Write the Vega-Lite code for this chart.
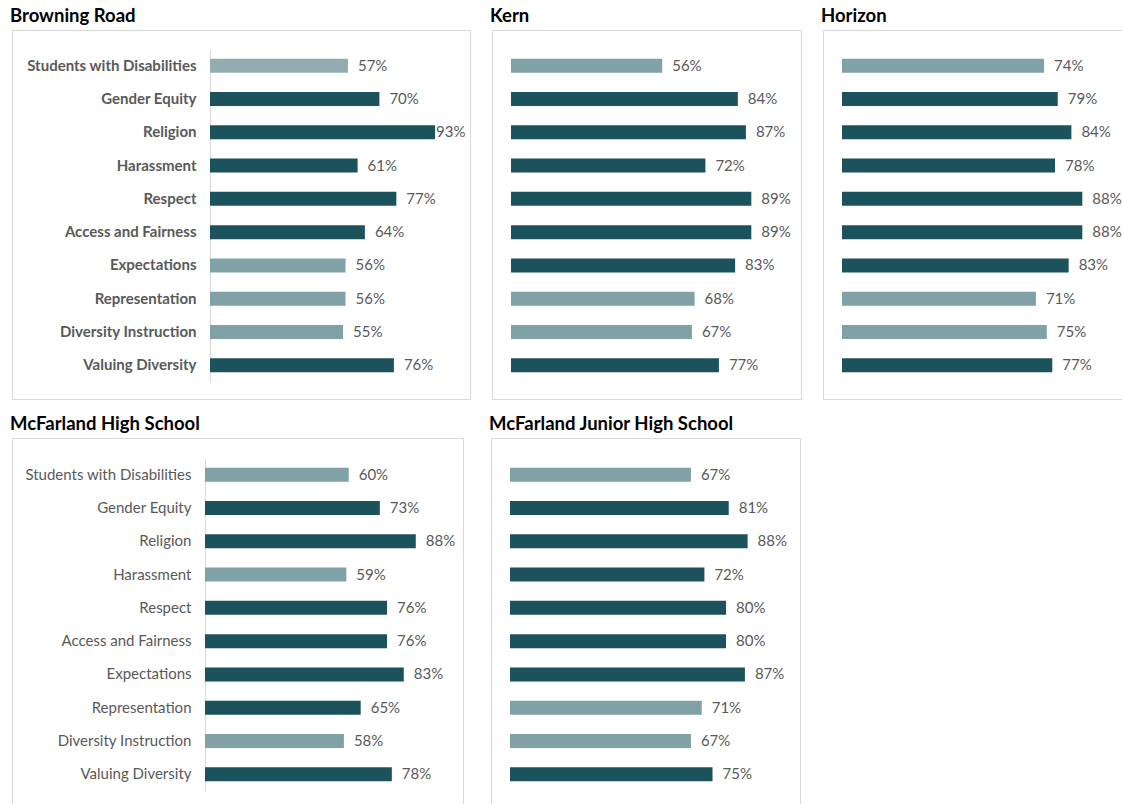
{
  "$schema": "https://vega.github.io/schema/vega-lite/v6.json",
  "padding": {"left": 9, "top": 6, "right": 0, "bottom": 0},
  "background": "white",
  "datasets": {
    "scores": [
      {"school": "Browning Road", "category": "Students with Disabilities", "value": 0.57, "group": "C"},
      {"school": "Browning Road", "category": "Gender Equity", "value": 0.70, "group": "A"},
      {"school": "Browning Road", "category": "Religion", "value": 0.93, "group": "A"},
      {"school": "Browning Road", "category": "Harassment", "value": 0.61, "group": "A"},
      {"school": "Browning Road", "category": "Respect", "value": 0.77, "group": "A"},
      {"school": "Browning Road", "category": "Access and Fairness", "value": 0.64, "group": "A"},
      {"school": "Browning Road", "category": "Expectations", "value": 0.56, "group": "B"},
      {"school": "Browning Road", "category": "Representation", "value": 0.56, "group": "B"},
      {"school": "Browning Road", "category": "Diversity Instruction", "value": 0.55, "group": "B"},
      {"school": "Browning Road", "category": "Valuing Diversity", "value": 0.76, "group": "A"},
      {"school": "Kern", "category": "Students with Disabilities", "value": 0.56, "group": "B"},
      {"school": "Kern", "category": "Gender Equity", "value": 0.84, "group": "A"},
      {"school": "Kern", "category": "Religion", "value": 0.87, "group": "A"},
      {"school": "Kern", "category": "Harassment", "value": 0.72, "group": "A"},
      {"school": "Kern", "category": "Respect", "value": 0.89, "group": "A"},
      {"school": "Kern", "category": "Access and Fairness", "value": 0.89, "group": "A"},
      {"school": "Kern", "category": "Expectations", "value": 0.83, "group": "A"},
      {"school": "Kern", "category": "Representation", "value": 0.68, "group": "B"},
      {"school": "Kern", "category": "Diversity Instruction", "value": 0.67, "group": "B"},
      {"school": "Kern", "category": "Valuing Diversity", "value": 0.77, "group": "A"},
      {"school": "Horizon", "category": "Students with Disabilities", "value": 0.74, "group": "B"},
      {"school": "Horizon", "category": "Gender Equity", "value": 0.79, "group": "A"},
      {"school": "Horizon", "category": "Religion", "value": 0.84, "group": "A"},
      {"school": "Horizon", "category": "Harassment", "value": 0.78, "group": "A"},
      {"school": "Horizon", "category": "Respect", "value": 0.88, "group": "A"},
      {"school": "Horizon", "category": "Access and Fairness", "value": 0.88, "group": "A"},
      {"school": "Horizon", "category": "Expectations", "value": 0.83, "group": "A"},
      {"school": "Horizon", "category": "Representation", "value": 0.71, "group": "B"},
      {"school": "Horizon", "category": "Diversity Instruction", "value": 0.75, "group": "B"},
      {"school": "Horizon", "category": "Valuing Diversity", "value": 0.77, "group": "A"},
      {"school": "McFarland High School", "category": "Students with Disabilities", "value": 0.60, "group": "B"},
      {"school": "McFarland High School", "category": "Gender Equity", "value": 0.73, "group": "A"},
      {"school": "McFarland High School", "category": "Religion", "value": 0.88, "group": "A"},
      {"school": "McFarland High School", "category": "Harassment", "value": 0.59, "group": "B"},
      {"school": "McFarland High School", "category": "Respect", "value": 0.76, "group": "A"},
      {"school": "McFarland High School", "category": "Access and Fairness", "value": 0.76, "group": "A"},
      {"school": "McFarland High School", "category": "Expectations", "value": 0.83, "group": "A"},
      {"school": "McFarland High School", "category": "Representation", "value": 0.65, "group": "A"},
      {"school": "McFarland High School", "category": "Diversity Instruction", "value": 0.58, "group": "B"},
      {"school": "McFarland High School", "category": "Valuing Diversity", "value": 0.78, "group": "A"},
      {"school": "McFarland Junior High School", "category": "Students with Disabilities", "value": 0.67, "group": "B"},
      {"school": "McFarland Junior High School", "category": "Gender Equity", "value": 0.81, "group": "A"},
      {"school": "McFarland Junior High School", "category": "Religion", "value": 0.88, "group": "A"},
      {"school": "McFarland Junior High School", "category": "Harassment", "value": 0.72, "group": "A"},
      {"school": "McFarland Junior High School", "category": "Respect", "value": 0.80, "group": "A"},
      {"school": "McFarland Junior High School", "category": "Access and Fairness", "value": 0.80, "group": "A"},
      {"school": "McFarland Junior High School", "category": "Expectations", "value": 0.87, "group": "A"},
      {"school": "McFarland Junior High School", "category": "Representation", "value": 0.71, "group": "B"},
      {"school": "McFarland Junior High School", "category": "Diversity Instruction", "value": 0.67, "group": "B"},
      {"school": "McFarland Junior High School", "category": "Valuing Diversity", "value": 0.75, "group": "A"}
    ]
  },
  "data": {"name": "scores"},
  "config": {
    "font": "Lato",
    "view": {"stroke": "#d9d9d9", "strokeWidth": 1},
    "title": {"fontSize": 18.5, "fontWeight": "bold", "color": "#000000", "anchor": "start", "offset": 5, "dx": -2, "font": "Lato"},
    "text": {"font": "Lato", "fontSize": 15, "color": "#595959", "align": "left", "baseline": "middle"}
  },
  "vconcat": [
    {
      "spacing": 18,
      "hconcat": [
        {
          "title": "Browning Road",
          "width": 458, "height": 369,
          "transform": [{"filter": "datum.school === 'Browning Road'"}],
          "encoding": {
            "y": {"field": "category", "type": "nominal",
              "sort": ["Students with Disabilities", "Gender Equity", "Religion", "Harassment", "Respect", "Access and Fairness", "Expectations", "Representation", "Diversity Instruction", "Valuing Diversity"],
              "scale": {"range": [19, 352], "paddingInner": 0, "paddingOuter": 0},
              "axis": {"orient": "left", "offset": -198, "title": null, "ticks": false, "grid": false, "domainColor": "#d9d9d9", "labelFont": "Lato", "labelFontSize": 15, "labelFontWeight": "bold", "labelColor": "#595959", "labelPadding": 14, "labelLimit": 400}},
            "x": {"field": "value", "type": "quantitative", "scale": {"domain": [-0.8182, 1.0744], "nice": false}, "axis": null}
          },
          "layer": [
            {"mark": {"type": "bar", "height": {"band": 0.42}},
             "encoding": {"x2": {"datum": 0},
               "color": {"field": "group", "type": "nominal", "scale": {"domain": ["A", "B", "C"], "range": ["#1b525c", "#80a1a5", "#93acb0"]}, "legend": null}}},
            {"transform": [{"filter": "datum.value < 0.9"}],
             "mark": {"type": "text", "dx": 10},
             "encoding": {"text": {"field": "value", "type": "quantitative", "format": ".0%"}}},
            {"transform": [{"filter": "datum.value >= 0.9"}],
             "mark": {"type": "text", "dx": 1},
             "encoding": {"text": {"field": "value", "type": "quantitative", "format": ".0%"}}}
          ]
        },
        {
          "title": "Kern",
          "width": 309, "height": 369,
          "transform": [{"filter": "datum.school === 'Kern'"}],
          "encoding": {
            "y": {"field": "category", "type": "nominal",
              "sort": ["Students with Disabilities", "Gender Equity", "Religion", "Harassment", "Respect", "Access and Fairness", "Expectations", "Representation", "Diversity Instruction", "Valuing Diversity"],
              "scale": {"range": [19, 352], "paddingInner": 0, "paddingOuter": 0}, "axis": null},
            "x": {"field": "value", "type": "quantitative", "scale": {"domain": [-0.0704, 1.074], "nice": false}, "axis": null}
          },
          "layer": [
            {"mark": {"type": "bar", "height": {"band": 0.42}},
             "encoding": {"x2": {"datum": 0},
               "color": {"field": "group", "type": "nominal", "scale": {"domain": ["A", "B", "C"], "range": ["#1b525c", "#80a1a5", "#93acb0"]}, "legend": null}}},
            {"mark": {"type": "text", "dx": 10},
             "encoding": {"text": {"field": "value", "type": "quantitative", "format": ".0%"}}}
          ]
        },
        {
          "title": "Horizon",
          "width": 303, "height": 369,
          "transform": [{"filter": "datum.school === 'Horizon'"}],
          "encoding": {
            "y": {"field": "category", "type": "nominal",
              "sort": ["Students with Disabilities", "Gender Equity", "Religion", "Harassment", "Respect", "Access and Fairness", "Expectations", "Representation", "Diversity Instruction", "Valuing Diversity"],
              "scale": {"range": [19, 352], "paddingInner": 0, "paddingOuter": 0}, "axis": null},
            "x": {"field": "value", "type": "quantitative", "scale": {"domain": [-0.0696, 1.040], "nice": false}, "axis": null}
          },
          "layer": [
            {"mark": {"type": "bar", "height": {"band": 0.42}},
             "encoding": {"x2": {"datum": 0},
               "color": {"field": "group", "type": "nominal", "scale": {"domain": ["A", "B", "C"], "range": ["#1b525c", "#80a1a5", "#93acb0"]}, "legend": null}}},
            {"mark": {"type": "text", "dx": 10},
             "encoding": {"text": {"field": "value", "type": "quantitative", "format": ".0%"}}}
          ]
        }
      ]
    },
    {
      "spacing": 24,
      "hconcat": [
        {
          "title": "McFarland High School",
          "width": 451, "height": 369,
          "transform": [{"filter": "datum.school === 'McFarland High School'"}],
          "encoding": {
            "y": {"field": "category", "type": "nominal",
              "sort": ["Students with Disabilities", "Gender Equity", "Religion", "Harassment", "Respect", "Access and Fairness", "Expectations", "Representation", "Diversity Instruction", "Valuing Diversity"],
              "scale": {"range": [20, 353], "paddingInner": 0, "paddingOuter": 0},
              "axis": {"orient": "left", "offset": -193, "title": null, "ticks": false, "grid": false, "domainColor": "#d9d9d9", "labelFont": "Lato", "labelFontSize": 15, "labelFontWeight": "normal", "labelColor": "#595959", "labelPadding": 14, "labelLimit": 400}},
            "x": {"field": "value", "type": "quantitative", "scale": {"domain": [-0.8058, 1.0772], "nice": false}, "axis": null}
          },
          "layer": [
            {"mark": {"type": "bar", "height": {"band": 0.42}},
             "encoding": {"x2": {"datum": 0},
               "color": {"field": "group", "type": "nominal", "scale": {"domain": ["A", "B", "C"], "range": ["#1b525c", "#80a1a5", "#93acb0"]}, "legend": null}}},
            {"mark": {"type": "text", "dx": 10},
             "encoding": {"text": {"field": "value", "type": "quantitative", "format": ".0%"}}}
          ]
        },
        {
          "title": "McFarland Junior High School",
          "width": 309, "height": 369,
          "transform": [{"filter": "datum.school === 'McFarland Junior High School'"}],
          "encoding": {
            "y": {"field": "category", "type": "nominal",
              "sort": ["Students with Disabilities", "Gender Equity", "Religion", "Harassment", "Respect", "Access and Fairness", "Expectations", "Representation", "Diversity Instruction", "Valuing Diversity"],
              "scale": {"range": [20, 353], "paddingInner": 0, "paddingOuter": 0}, "axis": null},
            "x": {"field": "value", "type": "quantitative", "scale": {"domain": [-0.0704, 1.074], "nice": false}, "axis": null}
          },
          "layer": [
            {"mark": {"type": "bar", "height": {"band": 0.42}},
             "encoding": {"x2": {"datum": 0},
               "color": {"field": "group", "type": "nominal", "scale": {"domain": ["A", "B", "C"], "range": ["#1b525c", "#80a1a5", "#93acb0"]}, "legend": null}}},
            {"mark": {"type": "text", "dx": 10},
             "encoding": {"text": {"field": "value", "type": "quantitative", "format": ".0%"}}}
          ]
        }
      ]
    }
  ],
  "spacing": 14
}
